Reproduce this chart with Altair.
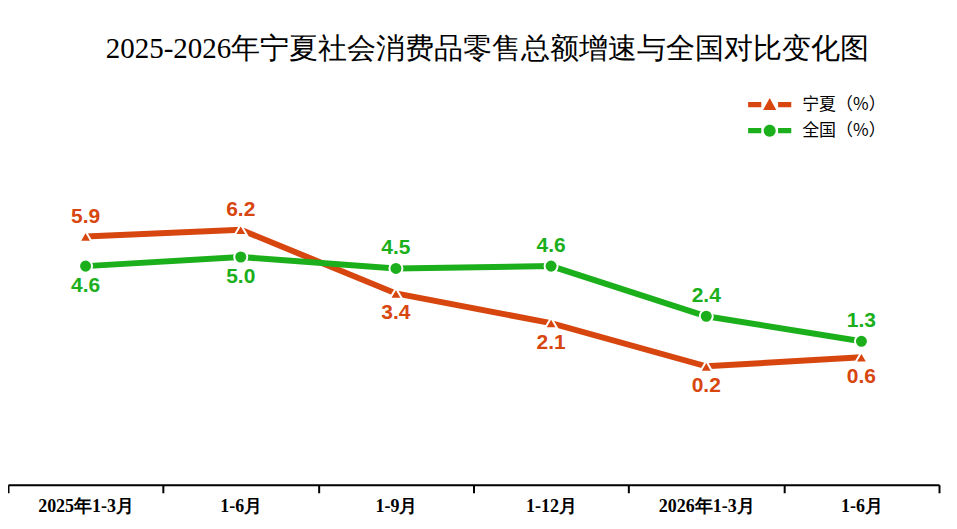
import altair as alt
import pandas as pd

# DATA -----------------------------------------------------------------------------------------------------
periods = ["2025年1-3月", "1-6月", "1-9月", "1-12月", "2026年1-3月", "1-6月"]
series_names = ["宁夏（%）", "全国（%）"]
ningxia = [5.9, 6.2, 3.4, 2.1, 0.2, 0.6]
national = [4.6, 5.0, 4.5, 4.6, 2.4, 1.3]
ningxia_label_above = [True, True, False, False, False, False]
national_label_above = [False, False, True, True, True, True]

colors = ["#D8460F", "#1CAF1C"]

# long table for Altair
rows = []
for i in range(len(periods)):
    rows.append({"idx": i, "series": series_names[0], "value": ningxia[i], "above": ningxia_label_above[i]})
    rows.append({"idx": i, "series": series_names[1], "value": national[i], "above": national_label_above[i]})
df = pd.DataFrame(rows)

label_expr = "[" + ",".join("'" + p + "'" for p in periods) + "][datum.value]"

# legend symbols: line segment + marker as custom paths
path_tri = ("M-3.6,-0.45 L-1.4,-0.45 L-1.4,0.45 L-3.6,0.45 Z "
            "M1.4,-0.45 L3.6,-0.45 L3.6,0.45 L1.4,0.45 Z "
            "M0,-1.1 L1.1,0.9 L-1.1,0.9 Z")
path_dot = ("M-3.6,-0.45 L-1.4,-0.45 L-1.4,0.45 L-3.6,0.45 Z "
            "M1.4,-0.45 L3.6,-0.45 L3.6,0.45 L1.4,0.45 Z "
            "M1,0 A1,1 0 1,1 -1,0 A1,1 0 1,1 1,0 Z")

x_enc = alt.X("idx:O", scale=alt.Scale(paddingInner=0, paddingOuter=0),
              axis=alt.Axis(title=None, labelExpr=label_expr, labelAngle=0, tickBand="extent",
                            domainColor="black", domainWidth=2, tickColor="black", tickWidth=2,
                            tickSize=8, labelFont="Liberation Serif", labelFontSize=18,
                            labelFontWeight="bold", labelColor="black", labelPadding=5, grid=False))
y_enc = alt.Y("value:Q", scale=alt.Scale(domain=[-5, 10]), axis=None)
color_scale = alt.Scale(domain=series_names, range=colors)
color_enc = alt.Color("series:N", scale=color_scale)

base = alt.Chart(df).encode(x=x_enc, y=y_enc)

lines = base.mark_line(strokeWidth=6).encode(color=color_enc)

tri_points = base.transform_filter(alt.datum.series == series_names[0]).mark_point(
    shape="triangle-up", filled=True, opacity=1, stroke="white", strokeWidth=2, size=150
).encode(color=color_enc)
dot_points = base.transform_filter(alt.datum.series == series_names[1]).mark_point(
    shape="circle", filled=True, opacity=1, stroke="white", strokeWidth=2, size=170
).encode(color=color_enc)

# legend layer: invisible marks, legend symbols forced visible
legend_layer = base.mark_point(filled=True, opacity=0).encode(
    color=alt.Color("series:N", scale=color_scale, legend=alt.Legend(
        title=None, orient="none", legendX=754, legendY=-47, padding=0,
        symbolSize=144, symbolStrokeWidth=0, symbolOpacity=1,
        labelOffset=24, rowPadding=8,
        labelFont="Noto Sans CJK SC", labelFontSize=17, labelColor="black")),
    shape=alt.Shape("series:N", scale=alt.Scale(domain=series_names, range=[path_tri, path_dot])),
)

text_style = dict(font="Liberation Sans", fontSize=21, fontWeight="bold", baseline="middle")
labels_above = base.transform_filter("datum.above").mark_text(dy=-20, **text_style).encode(
    text=alt.Text("value:Q", format=".1f"), color=color_enc)
labels_below = base.transform_filter("!datum.above").mark_text(dy=20, **text_style).encode(
    text=alt.Text("value:Q", format=".1f"), color=color_enc)

chart = alt.layer(legend_layer, lines, tri_points, dot_points, labels_above, labels_below).properties(
    width=932, height=342,
    autosize=alt.AutoSizeParams(type="none"),
    padding={"left": 0, "top": 135, "right": 10, "bottom": 40},
    title=alt.Title("2025-2026年宁夏社会消费品零售总额增速与全国对比变化图",
                    font="Liberation Serif", fontSize=29, fontWeight="normal", color="black",
                    anchor="middle", offset=32, dx=14),
).configure_view(stroke=None)

chart.save("out.html", embed_options={"renderer": "svg", "actions": False})
